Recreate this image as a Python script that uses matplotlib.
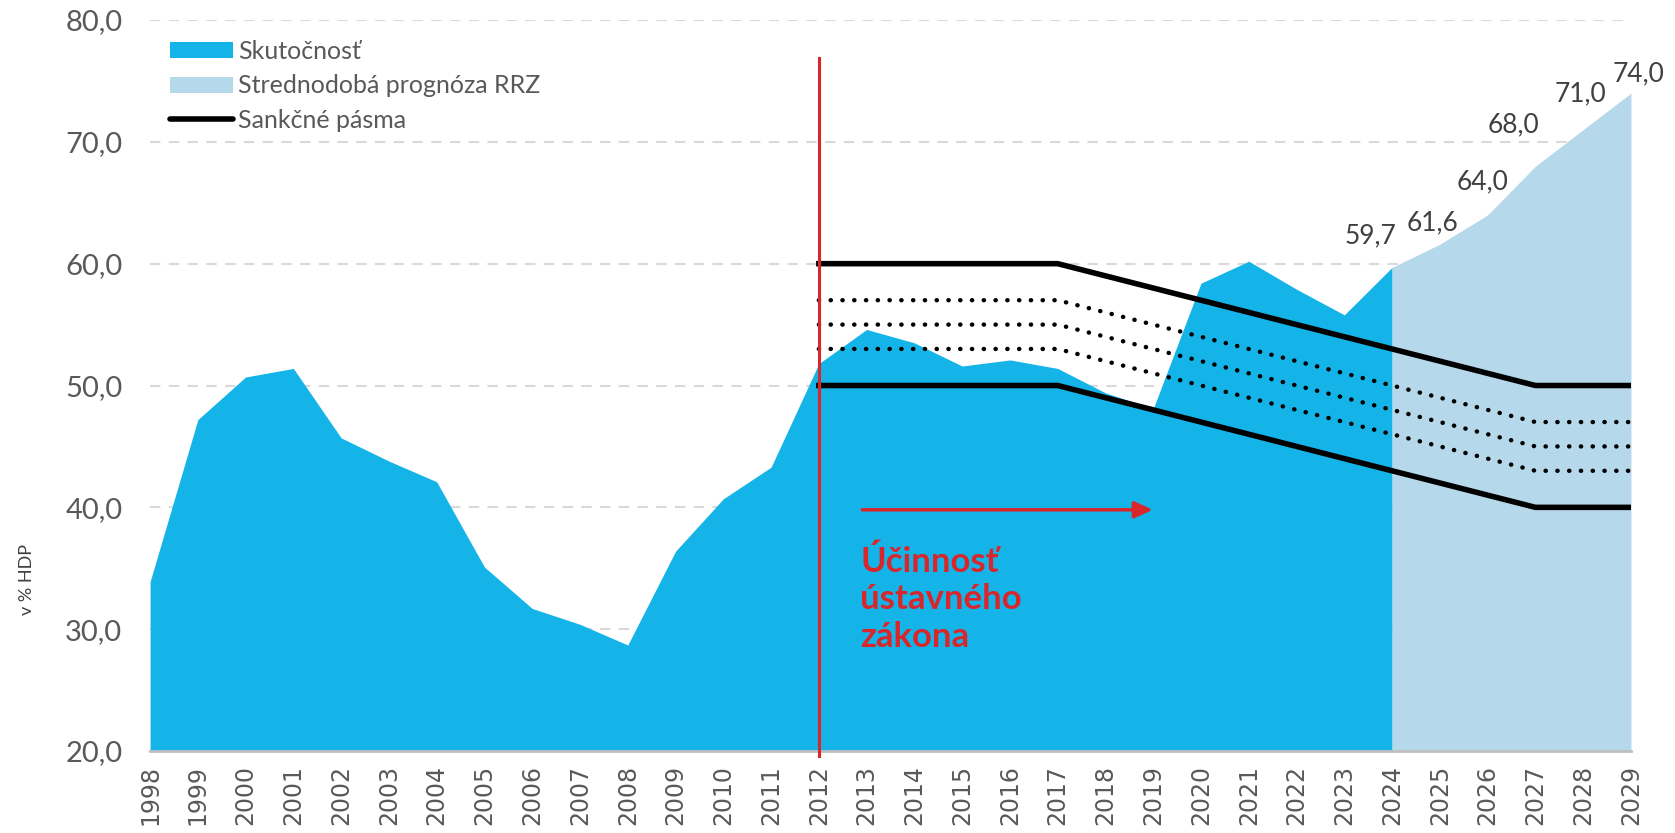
import matplotlib.pyplot as plt
from matplotlib.patches import Patch
from matplotlib.lines import Line2D

# data
years = list(range(1998, 2025))
actual = [33.9, 47.2, 50.7, 51.4, 45.7, 43.8, 42.1, 35.1, 31.7, 30.4, 28.7, 36.4, 40.7, 43.3,
          51.8, 54.6, 53.5, 51.6, 52.1, 51.4, 49.4, 48.1, 58.4, 60.2, 57.9, 55.8, 59.7]
fc_years = [2024, 2025, 2026, 2027, 2028, 2029]
forecast = [59.7, 61.6, 64.0, 68.0, 71.0, 74.0]
fc_labels = ["59,7", "61,6", "64,0", "68,0", "71,0", "74,0"]

band_years = [2012, 2017, 2027, 2029]
band_top = [60, 60, 50, 50]
band_bottom = [50, 50, 40, 40]
band_mid = [[57, 57, 47, 47], [55, 55, 45, 45], [53, 53, 43, 43]]

plt.rcParams['font.family'] = ['Lato', 'DejaVu Sans']

fig = plt.figure(figsize=(16.75, 8.33), dpi=100)
ax = fig.add_axes([0.0896, 0.0984, 0.9737 - 0.0896, 0.976 - 0.0984])

blue = '#14B4E9'
light = '#B6D8EB'
red = '#D9262B'

ax.fill_between(years, actual, 20, color=blue, lw=0, zorder=2)
ax.fill_between(fc_years, forecast, 20, color=light, lw=0, zorder=2)

ax.plot(band_years, band_top, color='black', lw=4, zorder=4)
ax.plot(band_years, band_bottom, color='black', lw=4, zorder=4)
for m in band_mid:
    ax.plot(band_years, m, color='black', lw=3.2, linestyle=(0, (0.05, 2.6)),
            dash_capstyle='round', zorder=4)

# red line and arrow
ax.plot([2012, 2012], [76.9, 19.6], color=red, lw=2.2, zorder=5, clip_on=False)
ax.annotate('', xy=(2019.05, 39.8), xytext=(2012.85, 39.8),
            arrowprops=dict(arrowstyle='-|>,head_length=1.1,head_width=0.5', color=red, lw=2.5),
            zorder=5)
ax.text(2012.87, 36.9, "Účinnosť\nústavného\nzákona", color=red, fontsize=25,
        fontweight='bold', va='top', ha='left', linespacing=1.22, zorder=6)

# data labels (offsets in pixels from the point)
offsets = [(-22, 32), (-7, 21), (-5, 33), (-22, 41), (-3, 36), (8, 19)]
for x, y, s, off in zip(fc_years, forecast, fc_labels, offsets):
    ax.annotate(s, (x, y), xytext=off, textcoords='offset pixels', ha='center', va='center',
                fontsize=19, color='#404040', zorder=6)

ax.set_xlim(1998, 2029)
ax.set_ylim(20, 80)
ax.set_yticks(range(20, 81, 10))
ax.set_yticklabels([f"{v},0" for v in range(20, 81, 10)], fontsize=21, color='#595959')
ax.set_xticks(range(1998, 2030))
ax.set_xticklabels([str(y) for y in range(1998, 2030)], rotation=90, fontsize=17,
                   color='#595959', family='DejaVu Sans')
ax.tick_params(length=0)
ax.tick_params(axis='y', pad=20)
ax.tick_params(axis='x', pad=10)
ax.yaxis.grid(True, color='#D9D9D9', lw=1.5, linestyle=(0, (5, 4)), zorder=0)
ax.set_axisbelow(True)
for s in ['top', 'right', 'left']:
    ax.spines[s].set_visible(False)
ax.spines['bottom'].set_color('#BFBFBF')
ax.spines['bottom'].set_linewidth(2)
ax.spines['bottom'].set_zorder(3)

ax.set_ylabel("v % HDP", fontsize=13, color='#404040')
ax.yaxis.set_label_coords(-0.078, 0.235)

handles = [Patch(facecolor=blue, edgecolor='none'),
           Patch(facecolor=light, edgecolor='none'),
           Line2D([0], [0], color='black', lw=4, solid_capstyle='round')]
ax.legend(handles, ["Skutočnosť", "Strednodobá prognóza RRZ", "Sankčné pásma"],
          loc='upper left', bbox_to_anchor=(0.007, 0.986), frameon=False, fontsize=18,
          handlelength=2.5, handleheight=0.6, handletextpad=0.2, labelspacing=0.45,
          borderaxespad=0, labelcolor='#595959')

fig.savefig('out.png', dpi=100)
